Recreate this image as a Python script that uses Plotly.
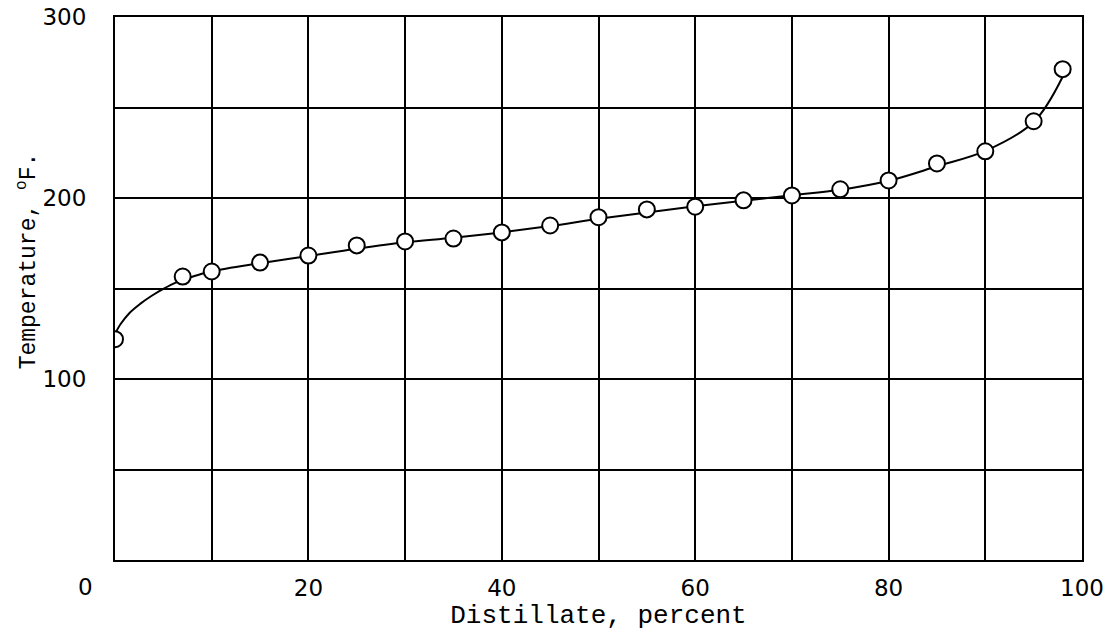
import plotly.graph_objects as go

# Measured data points (Distillate percent, Temperature °F)
distillate = [0, 7, 10, 15, 20, 25, 30, 35, 40, 45, 50, 55, 60, 65, 70, 75, 80, 85, 90, 95, 98]
temperature = [122, 156.6, 159.4, 164.3, 168.2, 173.8, 176, 177.6, 181, 184.8, 189.4, 193.7,
               195.2, 198.7, 201.4, 204.8, 209.7, 219.1, 225.8, 242.4, 271.2]

# Faired curve
curve_x = [0, 0.6, 1.5, 2.6, 3.8, 5, 6.4, 8, 10, 15, 20, 25, 30, 35, 40, 45, 50, 55, 60, 65,
           70, 75, 80, 85, 90, 95, 98]
curve_y = [125, 130.5, 136.5, 141.5, 146, 149.8, 153.5, 156.5, 159.5, 164, 168, 172, 175.5,
           178, 181, 184.5, 188.5, 192, 195.5, 198.5, 201.5, 204.5, 209.5, 217.5, 226, 242, 267]

x_tickvals = [20, 40, 60, 80, 100]
x_ticktext = ["20", "40", "60", "80", "100"]
y_tickvals = [100, 200, 300]
y_ticktext = ["100", "200", "300"]

fig = go.Figure()
fig.add_trace(go.Scatter(
    x=curve_x, y=curve_y, mode="lines",
    line=dict(color="black", width=2, shape="spline", smoothing=1),
    hoverinfo="skip", showlegend=False))
fig.add_trace(go.Scatter(
    x=distillate, y=temperature, mode="markers",
    marker=dict(symbol="circle", size=16, color="white",
                line=dict(color="black", width=2)),
    showlegend=False))

tickfont = dict(family="DejaVu Sans", size=23, color="black")
fig.update_xaxes(
    range=[0, 100], showgrid=True, gridcolor="black", gridwidth=1.6,
    tickmode="array", tickvals=x_tickvals, ticktext=x_ticktext,
    minor=dict(dtick=10, showgrid=True, gridcolor="black", gridwidth=1.6),
    showline=True, linecolor="black", linewidth=2.2, mirror=True,
    zeroline=False, ticks="", tickfont=tickfont, ticklabelstandoff=6,
    automargin=False,
    title=dict(text="Distillate, percent",
               font=dict(family="Liberation Mono", size=26, color="black"),
               standoff=0))
fig.update_yaxes(
    range=[0, 300], showgrid=True, gridcolor="black", gridwidth=1.6,
    tickmode="array", tickvals=y_tickvals, ticktext=y_ticktext,
    minor=dict(dtick=50, showgrid=True, gridcolor="black", gridwidth=1.6),
    showline=True, linecolor="black", linewidth=2.2, mirror=True,
    zeroline=False, ticks="", tickfont=tickfont, ticklabelstandoff=22,
    automargin=False)

fig.add_annotation(text="Temperature, <sup>o</sup>F.", xref="paper", yref="paper",
                   x=0, y=0.55, xanchor="center", yanchor="middle", xshift=-87,
                   textangle=-90, showarrow=False,
                   font=dict(family="Liberation Mono", size=23, color="black"))

fig.add_annotation(text="0", x=0, y=0, xref="x", yref="y", xanchor="center",
                   yanchor="middle", xshift=-30, yshift=-27, showarrow=False,
                   font=tickfont)

fig.update_layout(
    width=1112, height=636,
    margin=dict(l=115, r=30, t=17, b=76),
    paper_bgcolor="white", plot_bgcolor="white",
)

fig.write_html(
    "out.html",
    config={"displayModeBar": False},
    post_script="document.body.style.margin='0';document.body.style.overflow='hidden';",
)
